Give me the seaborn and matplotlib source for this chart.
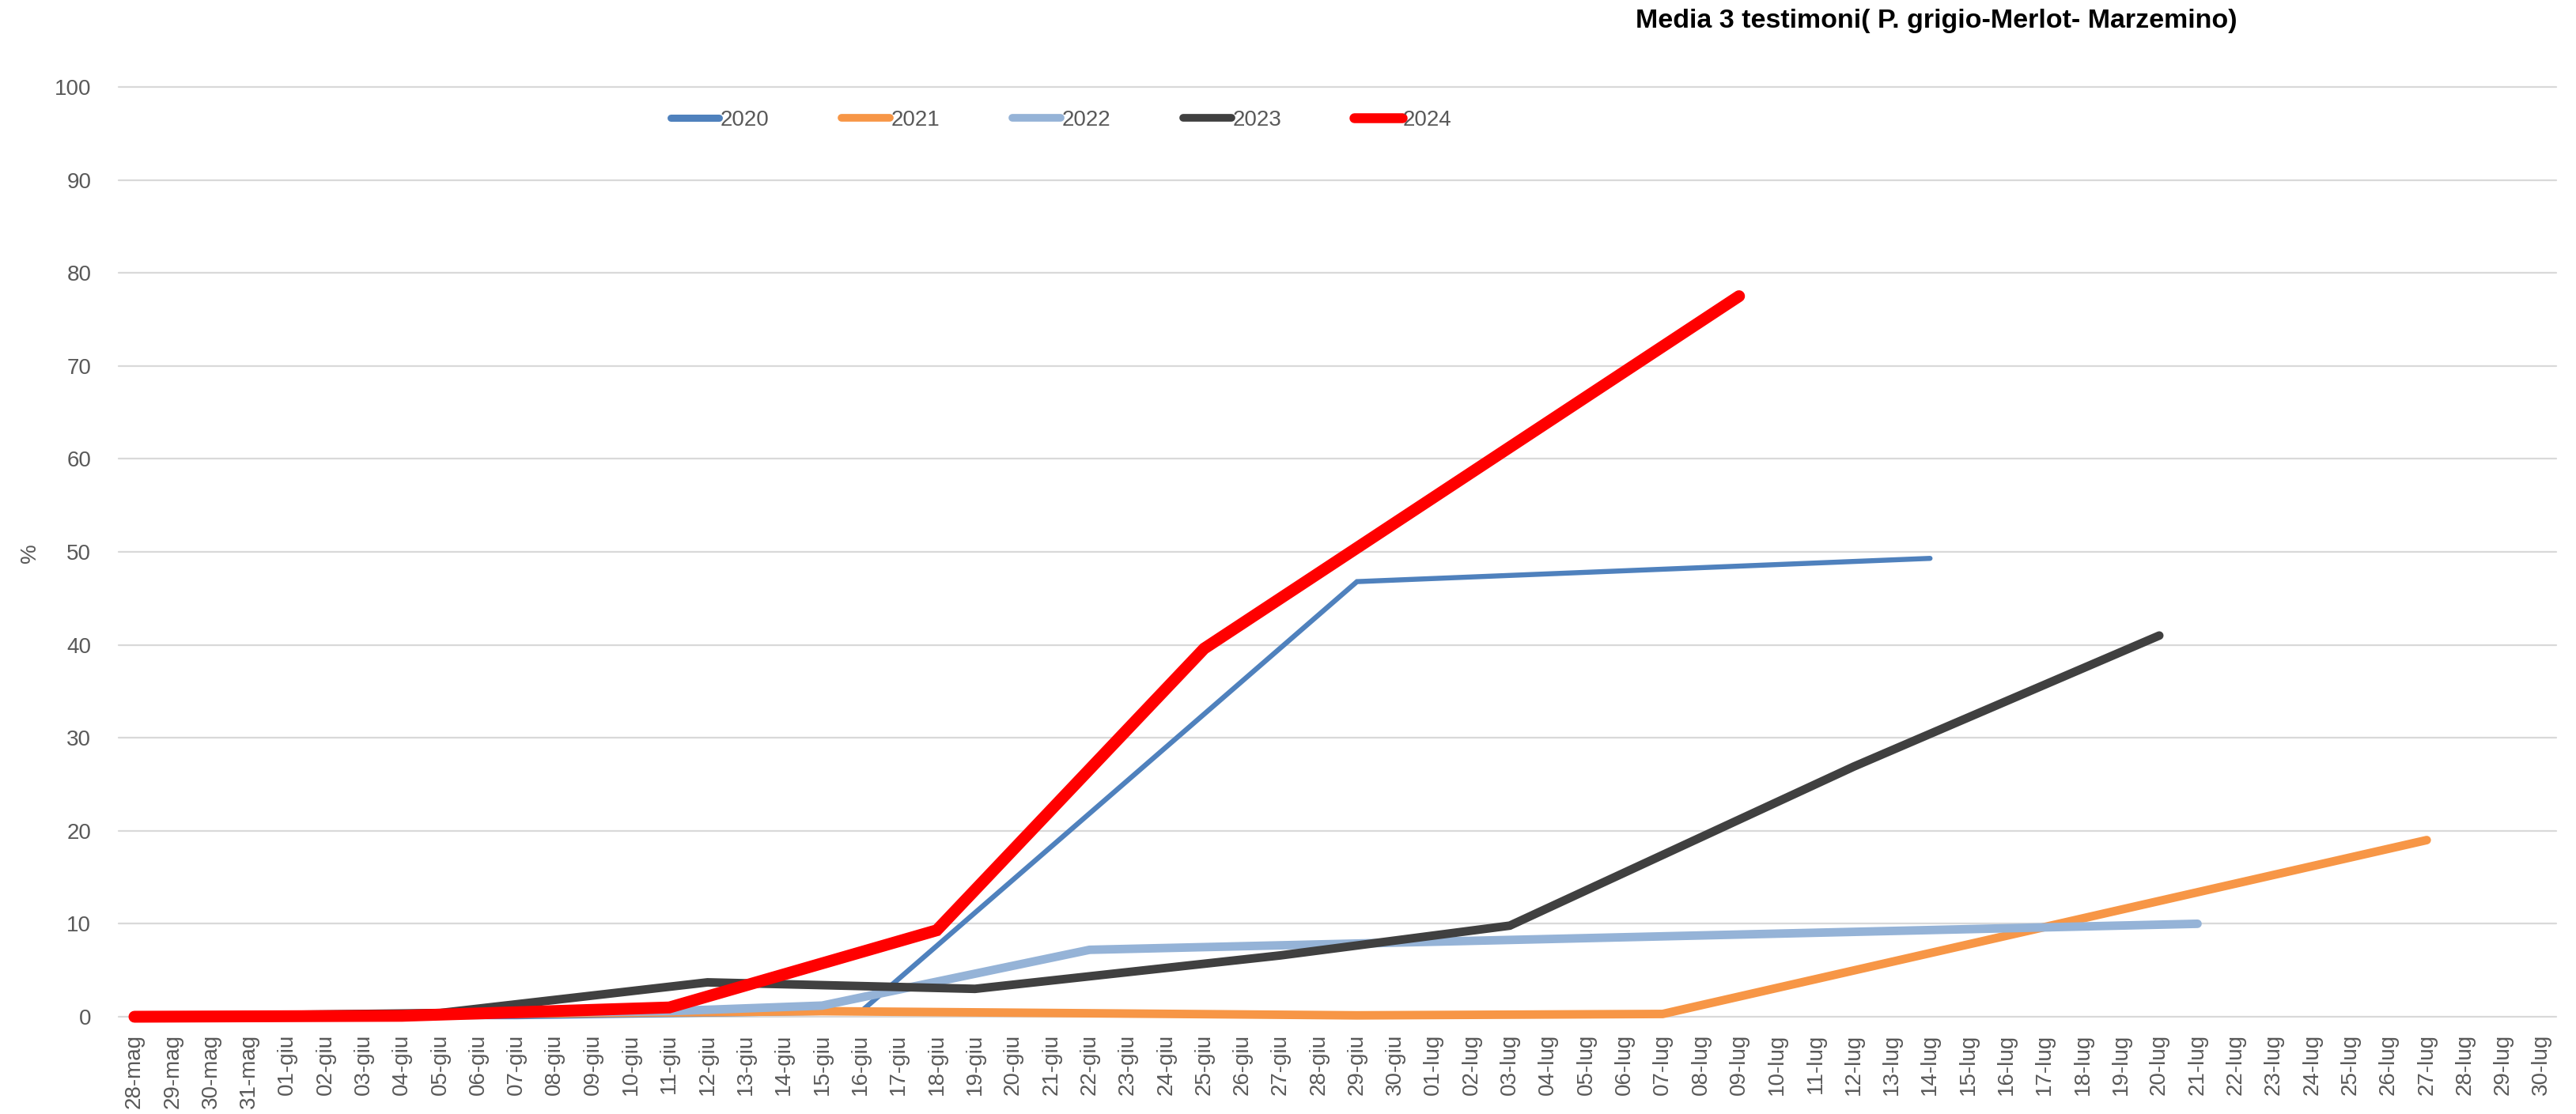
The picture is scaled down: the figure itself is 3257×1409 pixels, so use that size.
import numpy as np
import pandas as pd
import matplotlib
matplotlib.use("Agg")
import matplotlib.pyplot as plt
from matplotlib import font_manager
import seaborn as sns

# ---------------- data ----------------
categories = (["28-mag", "29-mag", "30-mag", "31-mag"]
              + [f"{d:02d}-giu" for d in range(1, 31)]
              + [f"{d:02d}-lug" for d in range(1, 31)])

dates_2020 = ["28-mag", "07-giu", "16-giu", "29-giu", "14-lug"]
vals_2020 = [0.0, 0.0, 0.5, 46.8, 49.3]

dates_2021 = ["28-mag", "15-giu", "29-giu", "07-lug", "27-lug"]
vals_2021 = [0.0, 0.6, 0.15, 0.3, 19.0]

dates_2022 = ["28-mag", "11-giu", "15-giu", "22-giu", "21-lug"]
vals_2022 = [0.0, 0.6, 1.2, 7.2, 10.0]

dates_2023 = ["28-mag", "05-giu", "12-giu", "19-giu", "27-giu", "03-lug", "12-lug", "20-lug"]
vals_2023 = [0.0, 0.4, 3.7, 3.0, 6.6, 9.8, 26.9, 41.0]

dates_2024 = ["28-mag", "04-giu", "11-giu", "18-giu", "25-giu", "09-lug"]
vals_2024 = [0.0, 0.1, 1.0, 9.3, 39.6, 77.5]

series_names = ["2020", "2021", "2022", "2023", "2024"]
series_dates = [dates_2020, dates_2021, dates_2022, dates_2023, dates_2024]
series_vals = [vals_2020, vals_2021, vals_2022, vals_2023, vals_2024]
colors = ["#4F81BD", "#F79646", "#95B3D7", "#404040", "#FF0000"]
widths = [4.6, 7.8, 7.8, 7.8, 10.8]
legend_widths = [6.5, 7.0, 7.0, 7.0, 9.0]

title = "Media 3 testimoni( P. grigio-Merlot- Marzemino)"

rows = []
for name, ds, vs in zip(series_names, series_dates, series_vals):
    for d, v in zip(ds, vs):
        rows.append({"anno": name, "x": categories.index(d), "data": d, "valore": v})
df = pd.DataFrame(rows)

# ---------------- style ----------------
sns.set_style("white")
plt.rcParams["font.family"] = ["Liberation Sans", "DejaVu Sans"]


def has_font(name):
    try:
        font_manager.findfont(font_manager.FontProperties(family=name), fallback_to_default=False)
        return True
    except Exception:
        return False


narrow = has_font("Liberation Sans Narrow")

W, H = 3257, 1409
fig = plt.figure(figsize=(W / 100, H / 100), dpi=100)
ax_left, ax_right = 150 / W, 3232 / W
ax_bottom, ax_top = 1 - 1286 / H, 1 - 110 / H
ax = fig.add_axes([ax_left, ax_bottom, ax_right - ax_left, ax_top - ax_bottom])

for name, col, lw in zip(series_names, colors, widths):
    sub = df[df["anno"] == name]
    sns.lineplot(data=sub, x="x", y="valore", ax=ax, color=col, linewidth=lw,
                 label=name, sort=False, estimator=None, legend=False)

for line in ax.get_lines():
    line.set_clip_on(False)
    line.set_solid_capstyle("round")
    line.set_solid_joinstyle("miter")

ax.set_xlim(-0.414, 63.39)
ax.set_ylim(0, 100)
ax.set_yticks(np.arange(0, 101, 10))
ax.set_xticks(range(len(categories)))
ax.set_xticklabels(categories, rotation=90, va="top", ha="center")
ax.set_xlabel("")
ax.set_ylabel("")
ax.grid(axis="y", color="#D9D9D9", linewidth=1.6)
ax.grid(axis="x", visible=False)
ax.set_axisbelow(True)
for sp in ax.spines.values():
    sp.set_visible(False)
ax.tick_params(axis="x", length=0, pad=16, labelsize=20, labelcolor="#595959")
ax.tick_params(axis="y", length=0, pad=25, labelsize=20, labelcolor="#595959")
for gl in ax.get_ygridlines():
    gl.set_clip_on(False)

# legend
handles = ax.get_lines()[:5]
leg = ax.legend(handles, series_names, loc="center left",
                bbox_to_anchor=(848 / W, 1 - 152 / H), bbox_transform=fig.transFigure,
                ncol=5, frameon=False, fontsize=20, handlelength=2.2,
                handletextpad=0.05, columnspacing=3.3, borderpad=0, borderaxespad=0)
for t in leg.get_texts():
    t.set_color("#595959")
for lh, lw in zip(leg.get_lines(), legend_widths):
    lh.set_linewidth(lw)
    lh.set_solid_capstyle("round")

# title
if narrow:
    fig.text(2448 / W, 1 - 27 / H, title, ha="center", va="center", fontsize=29,
             fontweight="bold", family=["Liberation Sans Narrow", "DejaVu Sans"], color="black")
else:
    fig.text(2448 / W, 1 - 27 / H, title, ha="center", va="center", fontsize=24.5,
             fontweight="bold", color="black")

# y label
fig.text(38 / W, 1 - 700 / H, "%", rotation=90, ha="center", va="center",
         fontsize=20, color="#595959")

fig.savefig("out.png", dpi=100)
